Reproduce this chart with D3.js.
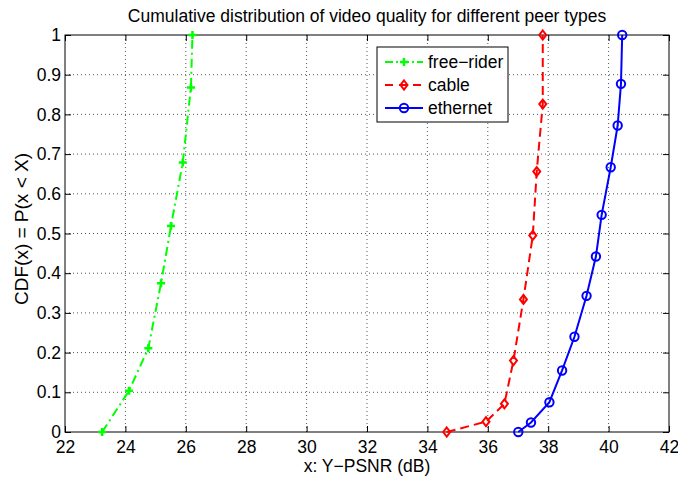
<!DOCTYPE html>
<html>
<head>
<meta charset="utf-8">
<script src="https://cdn.jsdelivr.net/npm/d3@7"></script>
<style>
	body { margin: 0; background: #fff; }
	svg { display: block; }
	text { font-family: "Liberation Sans", Arial, Helvetica, sans-serif; fill: #000; }
</style>
</head>
<body>
<svg id="chart"></svg>
<script>
// data
const freeRiderX = [23.23, 24.12, 24.76, 25.18, 25.51, 25.9, 26.17, 26.22];
const freeRiderY = [0, 0.104, 0.211, 0.375, 0.519, 0.679, 0.868, 1.0];
const cableX = [34.64, 35.94, 36.55, 36.85, 37.18, 37.49, 37.62, 37.82, 37.82];
const cableY = [0, 0.026, 0.071, 0.18, 0.334, 0.495, 0.656, 0.826, 1.0];
const ethernetX = [37.01, 37.43, 38.04, 38.46, 38.87, 39.27, 39.58, 39.77, 40.07, 40.3, 40.41, 40.45];
const ethernetY = [0, 0.024, 0.075, 0.155, 0.24, 0.343, 0.442, 0.547, 0.667, 0.772, 0.877, 1.0];
const xTicks = [22, 24, 26, 28, 30, 32, 34, 36, 38, 40, 42];
const yTicks = [0, 0.1, 0.2, 0.3, 0.4, 0.5, 0.6, 0.7, 0.8, 0.9, 1];
const seriesNames = ["free\u2212rider", "cable", "ethernet"];

const width = 678, height = 477;
const margin = { top: 35, right: 9, bottom: 45, left: 65 };
const innerW = width - margin.left - margin.right;
const innerH = height - margin.top - margin.bottom;
const fontSize = "17.5px";

const series = [
	{ name: seriesNames[0], xs: freeRiderX, ys: freeRiderY, color: "#00ff00", dash: "9,4,2,4", legDash: "8,3,2,3", marker: "plus" },
	{ name: seriesNames[1], xs: cableX, ys: cableY, color: "#ff0000", dash: "9,5", legDash: "8,6", marker: "diamond" },
	{ name: seriesNames[2], xs: ethernetX, ys: ethernetY, color: "#0000ff", dash: null, legDash: null, marker: "circle" },
];

const svg = d3.select("#chart").attr("width", width).attr("height", height);
const g = svg.append("g").attr("transform", `translate(${margin.left},${margin.top})`);

const x = d3.scaleLinear().domain([22, 42]).range([0, innerW]);
const y = d3.scaleLinear().domain([0, 1]).range([innerH, 0]);

// dotted grid
g.append("g")
	.selectAll("line")
	.data(xTicks.slice(1, -1))
	.join("line")
	.attr("x1", (d) => x(d)).attr("x2", (d) => x(d))
	.attr("y1", 0).attr("y2", innerH)
	.attr("stroke", "#555").attr("stroke-width", 1)
	.attr("stroke-dasharray", "1,3");
g.append("g")
	.selectAll("line")
	.data(yTicks.slice(1, -1))
	.join("line")
	.attr("x1", 0).attr("x2", innerW)
	.attr("y1", (d) => y(d)).attr("y2", (d) => y(d))
	.attr("stroke", "#555").attr("stroke-width", 1)
	.attr("stroke-dasharray", "1,3");

// axes with inward ticks on all sides
const fmt = (d) => String(d);
g.append("g").attr("transform", `translate(0,${innerH})`)
	.call(d3.axisBottom(x).tickValues(xTicks).tickSize(-6).tickPadding(9).tickFormat(fmt));
g.append("g").call(d3.axisTop(x).tickValues(xTicks).tickSize(-6).tickFormat(""));
g.append("g")
	.call(d3.axisLeft(y).tickValues(yTicks).tickSize(-6).tickPadding(4).tickFormat(fmt));
g.append("g").attr("transform", `translate(${innerW},0)`)
	.call(d3.axisRight(y).tickValues(yTicks).tickSize(-6).tickFormat(""));
g.selectAll(".domain").remove();
g.selectAll(".tick line").attr("stroke", "#000");
g.selectAll(".tick text").attr("font-size", fontSize).attr("font-family", null);

g.append("rect")
	.attr("width", innerW).attr("height", innerH)
	.attr("fill", "none").attr("stroke", "#000").attr("stroke-width", 1);

// markers
function drawMarker(sel, type, color) {
	if (type === "circle") {
		sel.append("circle").attr("r", 4.2)
			.attr("fill", "none").attr("stroke", color).attr("stroke-width", 2);
	} else if (type === "diamond") {
		sel.append("path").attr("d", "M0,-4.5L3.5,0L0,4.5L-3.5,0Z")
			.attr("fill", "none").attr("stroke", color).attr("stroke-width", 2);
	} else {
		sel.append("path").attr("d", "M-4,0H4M0,-4V4")
			.attr("stroke", color).attr("stroke-width", 2.5);
	}
}

const line = d3.line().x((d) => x(d[0])).y((d) => y(d[1]));
series.forEach((s) => {
	const pts = s.xs.map((v, i) => [v, s.ys[i]]);
	g.append("path")
		.datum(pts)
		.attr("d", line)
		.attr("fill", "none")
		.attr("stroke", s.color)
		.attr("stroke-width", 2)
		.attr("stroke-dasharray", s.dash);
	g.append("g")
		.selectAll("g")
		.data(pts)
		.join("g")
		.attr("transform", (d) => `translate(${x(d[0])},${y(d[1])})`)
		.each(function () { drawMarker(d3.select(this), s.marker, s.color); });
});

// legend
const leg = svg.append("g").attr("transform", "translate(377,47)");
leg.append("rect").attr("width", 131).attr("height", 75)
	.attr("fill", "#fff").attr("stroke", "#000").attr("stroke-width", 1);
series.forEach((s, i) => {
	const ly = 15 + i * 23;
	leg.append("line")
		.attr("x1", 8).attr("x2", 46).attr("y1", ly).attr("y2", ly)
		.attr("stroke", s.color).attr("stroke-width", 2)
		.attr("stroke-dasharray", s.legDash);
	const m = leg.append("g").attr("transform", `translate(27,${ly})`);
	drawMarker(m, s.marker, s.color);
	leg.append("text")
		.attr("x", 51).attr("y", ly)
		.attr("dy", "0.35em")
		.attr("font-size", fontSize)
		.text(s.name);
});

// title and axis labels
svg.append("text")
	.attr("x", margin.left + innerW / 2).attr("y", 22)
	.attr("text-anchor", "middle").attr("font-size", fontSize)
	.text("Cumulative distribution of video quality for different peer types");
svg.append("text")
	.attr("x", margin.left + innerW / 2).attr("y", 472)
	.attr("text-anchor", "middle").attr("font-size", fontSize)
	.text("x: Y\u2212PSNR (dB)");
svg.append("text")
	.attr("transform", "translate(28,229) rotate(-90)")
	.attr("text-anchor", "middle").attr("font-size", "19px")
	.text("CDF(x) = P(x < X)");
</script>
</body>
</html>
